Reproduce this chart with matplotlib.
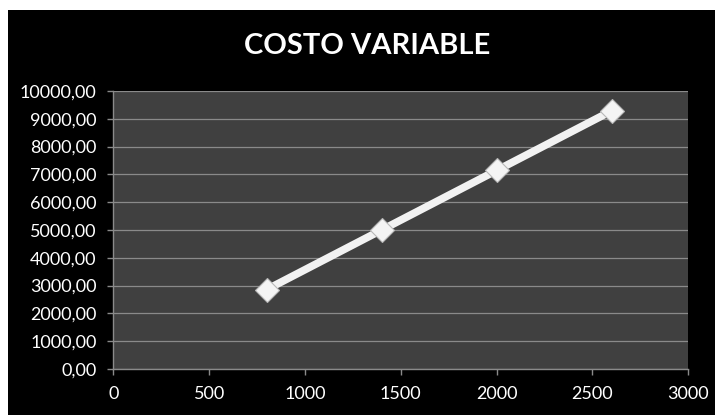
import matplotlib
matplotlib.use("Agg")
import matplotlib.pyplot as plt
from matplotlib.patches import Rectangle
from matplotlib.ticker import FuncFormatter

# Units produced vs. variable cost
units = [800, 1400, 2000, 2600]
variable_cost = [2857.14, 5000.00, 7142.86, 9285.71]
x_ticks = [0, 500, 1000, 1500, 2000, 2500, 3000]
y_ticks = [0, 1000, 2000, 3000, 4000, 5000, 6000, 7000, 8000, 9000, 10000]

plt.rcParams['font.family'] = ['Lato', 'DejaVu Sans']

W, H = 715, 415
fig = plt.figure(figsize=(W / 100, H / 100), dpi=100, facecolor='black')
# thin white margin along the top and left edges
fig.patches.append(Rectangle((0, 1 - 10 / H), 1, 10 / H, transform=fig.transFigure,
                             facecolor='white', edgecolor='none'))
fig.patches.append(Rectangle((0, 0), 8 / W, 1, transform=fig.transFigure,
                             facecolor='white', edgecolor='none'))

ax = fig.add_axes([113.3 / W, (H - 369) / H, (688.3 - 113.3) / W, (369 - 91) / H])
ax.set_facecolor('#404040')

ax.plot(units, variable_cost, color='#f2f2f2', linewidth=5.5, solid_capstyle='round',
        marker='D', markersize=12, markerfacecolor='#f4f4f4',
        markeredgecolor='#b8b8b8', markeredgewidth=0.8, zorder=3)

ax.set_xlim(0, 3000)
ax.set_ylim(0, 10000)
ax.set_xticks(x_ticks)
ax.set_yticks(y_ticks)
ax.yaxis.set_major_formatter(FuncFormatter(lambda v, p: f"{v:.2f}".replace('.', ',')))

ax.grid(axis='y', color='#8a8a8a', linewidth=0.9, zorder=1)
ax.set_axisbelow(True)

for s in ('top', 'right'):
    ax.spines[s].set_visible(False)
for s in ('left', 'bottom'):
    ax.spines[s].set_color('#8a8a8a')
    ax.spines[s].set_linewidth(1.0)

ax.tick_params(axis='both', colors='#8a8a8a', length=4, width=1.0,
               labelcolor='white', labelsize=13)
ax.tick_params(axis='y', pad=8)
ax.tick_params(axis='x', pad=8)

fig.text(367.5 / W, 1 - 45.5 / H, 'COSTO VARIABLE', color='white',
         fontsize=21, fontweight='bold', ha='center', va='center')

fig.savefig('out.png', dpi=100, facecolor=fig.get_facecolor())
